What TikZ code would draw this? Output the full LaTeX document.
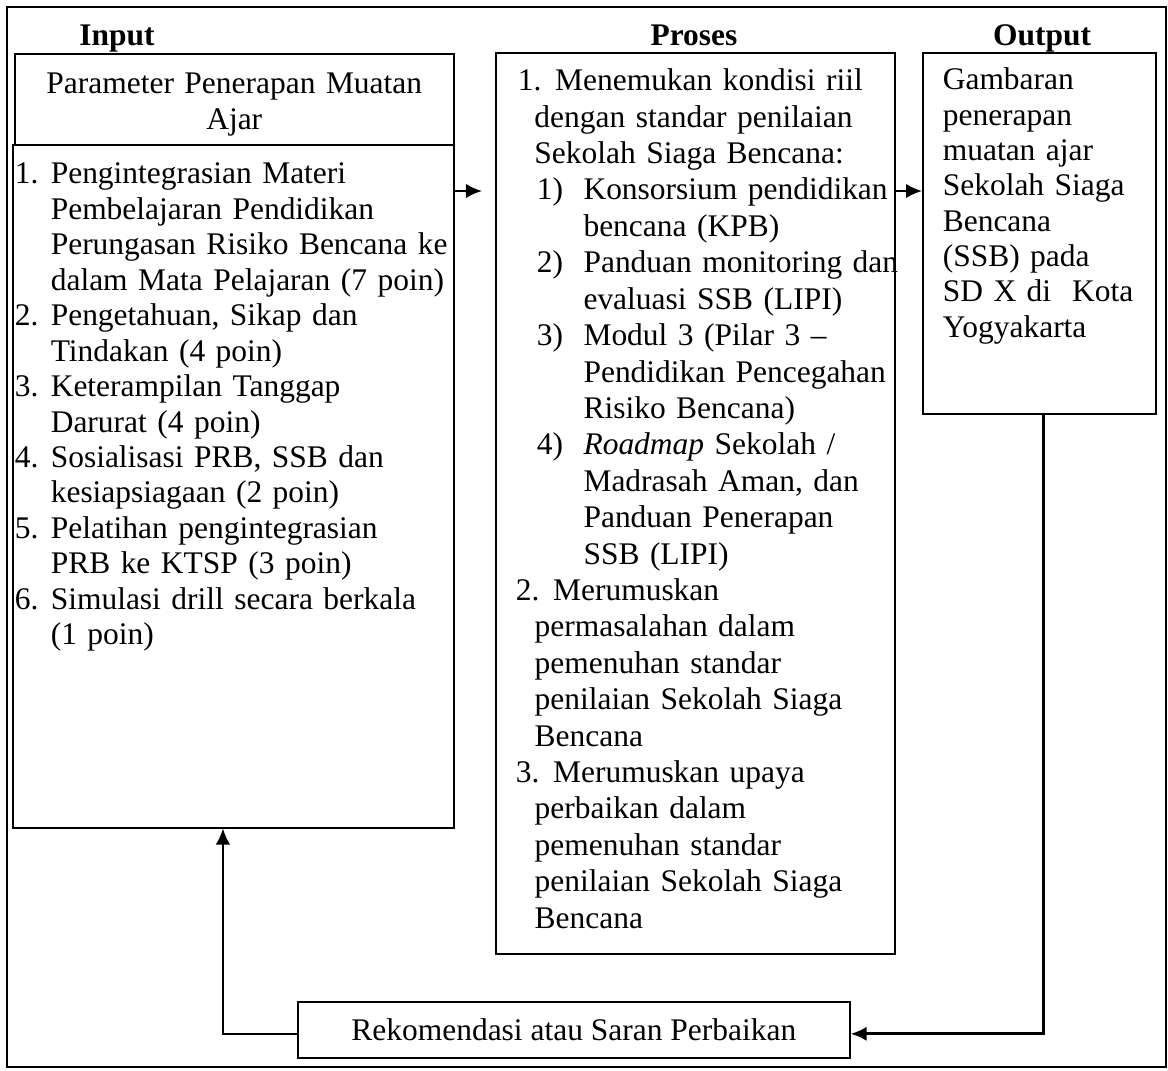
\documentclass[tikz,border=0pt]{standalone}
\usepackage{fontspec}
\setmainfont{Liberation Serif}
\usetikzlibrary{arrows.meta, positioning, calc}

\begin{document}
\fontsize{11.8pt}{13.3pt}\selectfont
\begin{tikzpicture}[x=0.375pt, y=-0.375pt,
				kotak/.style={draw, line width=0.6pt, anchor=north west, inner sep=0pt, align=left},
				judul/.style={font=\bfseries, anchor=base, inner sep=0pt},
				panah/.style={line width=0.75pt, -{Latex[length=6pt,width=5.4pt]}}]
	\useasboundingbox (0,0) rectangle (1168,1070);
	\draw[line width=0.8pt] (7,7) rectangle (1166,1067);
	% judul kolom
	\node[judul] (tinput) at (117,46) {Input};
	\node[judul] (tproses) at (694,46) {Proses};
	\node[judul] (toutput) at (1042,46) {Output};
	% kolom input
	\node[kotak, align=center, text width=164.6pt, text height=15pt, text depth=19.1pt] (muatan) at (14,53) {Parameter Penerapan Muatan\\Ajar};
	\node[kotak, text width=165.4pt, text height=14.6pt, text depth=241.5pt] (parameter) at (12,144) {%
		\begin{tabular}[t]{@{\hspace{0.75pt}}p{13.5pt}@{}l@{}}
			1. & Pengintegrasian Materi\\
			   & Pembelajaran Pendidikan\\
			   & Perungasan Risiko Bencana ke\\
			   & dalam Mata Pelajaran (7 poin)\\
			2. & Pengetahuan, Sikap dan\\
			   & Tindakan (4 poin)\\
			3. & Keterampilan Tanggap\\
			   & Darurat (4 poin)\\
			4. & Sosialisasi PRB, SSB dan\\
			   & kesiapsiagaan (2 poin)\\
			5. & Pelatihan pengintegrasian\\
			   & PRB ke KTSP (3 poin)\\
			6. & Simulasi drill secara berkala\\
			   & (1 poin)
		\end{tabular}};
	% kolom proses
	\node[kotak, text width=149.6pt, text height=14.25pt, text depth=323.6pt,
		font=\fontsize{11.8pt}{13.65pt}\selectfont] (proses) at (495,52) {%
		\begin{tabular}[t]{@{}l@{}}
			\hspace{8.25pt}\makebox[14pt][l]{1.}Menemukan kondisi riil\\
			\hspace{14.5pt}dengan standar penilaian\\
			\hspace{14.5pt}Sekolah Siaga Bencana:\\
			\hspace{15.4pt}\makebox[17.5pt][l]{1)}Konsorsium pendidikan\\
			\hspace{32.9pt}bencana (KPB)\\
			\hspace{15.4pt}\makebox[17.5pt][l]{2)}Panduan monitoring dan\\
			\hspace{32.9pt}evaluasi SSB (LIPI)\\
			\hspace{15.4pt}\makebox[17.5pt][l]{3)}Modul 3 (Pilar 3 --\\
			\hspace{32.9pt}Pendidikan Pencegahan\\
			\hspace{32.9pt}Risiko Bencana)\\
			\hspace{15.4pt}\makebox[17.5pt][l]{4)}\textit{Roadmap} Sekolah /\\
			\hspace{32.9pt}Madrasah Aman, dan\\
			\hspace{32.9pt}Panduan Penerapan\\
			\hspace{32.9pt}SSB (LIPI)\\
			\hspace{7.5pt}\makebox[14pt][l]{2.}Merumuskan\\
			\hspace{14.6pt}permasalahan dalam\\
			\hspace{14.6pt}pemenuhan standar\\
			\hspace{14.6pt}penilaian Sekolah Siaga\\
			\hspace{14.6pt}Bencana\\
			\hspace{7.5pt}\makebox[14pt][l]{3.}Merumuskan upaya\\
			\hspace{14.6pt}perbaikan dalam\\
			\hspace{14.6pt}pemenuhan standar\\
			\hspace{14.6pt}penilaian Sekolah Siaga\\
			\hspace{14.6pt}Bencana
		\end{tabular}};
	% kolom output
	\node[kotak, text width=87.4pt, text height=13.9pt, text depth=121.5pt,
		font=\fontsize{11.8pt}{13.25pt}\selectfont] (output) at (922,52) {%
		\begin{tabular}[t]{@{\hspace{7.5pt}}l@{}}
			Gambaran\\
			penerapan\\
			muatan ajar\\
			Sekolah Siaga\\
			Bencana\\
			(SSB) pada\\
			SD X di~ Kota\\
			Yogyakarta
		\end{tabular}};
	\node[kotak, align=center, minimum width=207pt, minimum height=21pt] (rekom) at (297,1001) {Rekomendasi atau Saran Perbaikan};
	% panah
	\coordinate (aras) at (0,191);
	\draw[panah, shorten >=4.9pt] (parameter.east |- aras) -- (proses.west |- aras);
	\draw[panah] (proses.east |- aras) -- (output.west |- aras);
	\draw[panah, line width=1.1pt] ([xshift=1.7pt]output.south) |- ([yshift=-1.5pt]rekom.east);
	\draw[panah, line width=0.6pt] ([yshift=-1.5pt]rekom.west) -| ([xshift=-3.9pt]parameter.south);
\end{tikzpicture}
\end{document}
